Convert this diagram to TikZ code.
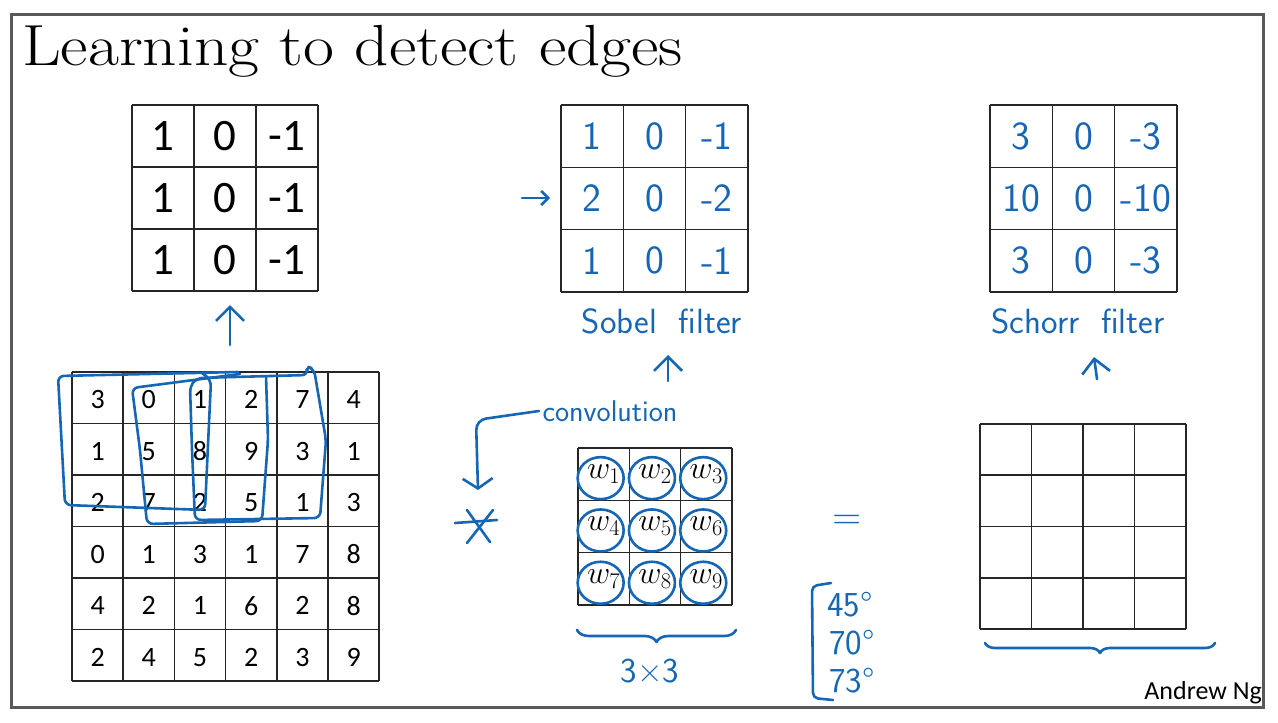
\documentclass[tikz,border=0pt]{standalone}
\usepackage{fix-cm}
\usepackage{fontspec}
\usetikzlibrary{arrows.meta,positioning,calc,decorations.pathreplacing}
\newfontfamily\calib{Carlito}
\definecolor{inkblue}{RGB}{22,102,182}

\begin{document}
\begin{tikzpicture}[x=1pt,y=-1pt,
  gridline/.style={black!85,line width=1.6pt},
  ink/.style={inkblue,line width=2.6pt,line cap=round,line join=round},
  upar/.style={ink,-{Straight Barb[length=14pt,width=28pt]}},
  bignum/.style={font=\calib\fontsize{45}{45}\selectfont},
  imgnum/.style={font=\calib\fontsize{28}{28}\selectfont,yshift=-2pt},
  handnum/.style={font=\sffamily\fontsize{40}{40}\selectfont,text=inkblue},
  handtext/.style={font=\sffamily\fontsize{35}{35}\selectfont,text=inkblue},
  wlabel/.style={font=\fontsize{32}{32}\selectfont}]
  \useasboundingbox (0,0) rectangle (1278,723);
  \fill[white] (0,0) rectangle (1278,723);
  \draw[black!65,line width=3pt] (11,14) rectangle (1263,707);

  \node[anchor=base west,inner sep=0,xscale=1.16,transform shape,font=\fontsize{58}{58}\selectfont] (title) at (22,65) {Learning to detect edges};

  % vertical edge kernel
  \foreach \i in {0,...,3} {
    \draw[gridline] ({132+62*\i},105) -- ({132+62*\i},291);
    \draw[gridline] (132,{105+62*\i}) -- (318,{105+62*\i});
  }
  \foreach \r in {1,2,3}
    \foreach \v [count=\c] in {1,0,-1}
      \node[bignum] (k-\r-\c) at ({132+62*(\c-0.5)},{105+62*(\r-0.5)}) {\v};

  % 6x6 image
  \foreach \i in {0,...,6} {
    \draw[gridline] ({72+51.2*\i},372) -- ({72+51.2*\i},681);
    \draw[gridline] (72,{372+51.5*\i}) -- (379,{372+51.5*\i});
  }
  \foreach \row [count=\r] in {{3,0,1,2,7,4},{1,5,8,9,3,1},{2,7,2,5,1,3},{0,1,3,1,7,8},{4,2,1,6,2,8},{2,4,5,2,3,9}}
    \foreach \v [count=\c] in \row
      \node[imgnum] (img-\r-\c) at ({72+51.2*(\c-0.5)},{372+51.5*(\r-0.5)}) {\v};

  % sliding windows
  \draw[ink,rounded corners=6pt] (238,372) -- (58,376) -- (65,505) -- (205,510) -- (211,380) -- (202,373);
  \draw[ink,rounded corners=6pt] (240,374) -- (132,388) -- (140,450) -- (147,524) -- (262,521) -- (268,440) -- (266,376);
  \draw[ink,rounded corners=6pt] (190,386) -- (197,378) -- (308,375) -- (306,366) -- (314,369) -- (326,440) -- (320,518) -- (195,520) -- (192,450) -- cycle;

  \coordinate (kin) at (230,345);
  \draw[upar] (kin) -- ++(0,-40);

  % Sobel
  \foreach \i in {0,...,3} {
    \draw[gridline] ({561+62.3*\i},105) -- ({561+62.3*\i},292);
    \draw[gridline] (561,{105+62.3*\i}) -- (748,{105+62.3*\i});
  }
  \foreach \row [count=\r] in {{1,0,-1},{2,0,-2},{1,0,-1}}
    \foreach \v [count=\c] in \row
      \node[handnum] (s-\r-\c) at ({561+62.3*(\c-0.5)},{105+62.3*(\r-0.5)}) {\v};
  \coordinate (sin) at (522,198);
  \draw[ink,-{Straight Barb[length=7pt,width=14pt]}] (sin) -- ++(28,0);
  \node[handtext] (sobel) at (662,321) {Sobel\ \ filter};
  \coordinate (sup) at (668,381);
  \draw[upar] (sup) -- ++(0,-26);

  % Scharr
  \foreach \i in {0,...,3} {
    \draw[gridline] ({990+62.3*\i},105) -- ({990+62.3*\i},292);
    \draw[gridline] (990,{105+62.3*\i}) -- (1177,{105+62.3*\i});
  }
  \foreach \row [count=\r] in {{3,0,-3},{10,0,-10},{3,0,-3}}
    \foreach \v [count=\c] in \row
      \node[handnum] (h-\r-\c) at ({990+62.3*(\c-0.5)},{105+62.3*(\r-0.5)}) {\v};
  \node[handtext] (scharr) at (1078,321) {Schorr\ \ filter};
  \coordinate (hup) at (1097,379);
  \draw[upar] (hup) -- ++(-3,-22);

  % convolution
  \node[font=\sffamily\fontsize{30}{30}\selectfont,text=inkblue] (conv) at (610,411) {convolution};
  \coordinate (star) at (477,525);
  \draw[ink] ($(star)+(-22,-2)$) -- ($(star)+(20,-5)$);
  \draw[ink] ($(star)+(-10,-15)$) -- ($(star)+(13,17)$);
  \draw[ink] ($(star)+(-10,18)$) -- ($(star)+(16,-15)$);
  \draw[ink,rounded corners=10pt,-{Straight Barb[length=10pt,width=30pt]}] (conv.west) -- (476,420) -- ($(star)+(1,-35)$);

  % 3x3 weights
  \foreach \i in {0,...,3} {
    \draw[gridline] ({578+51.3*\i},448) -- ({578+51.3*\i},605);
    \draw[gridline] (578,{448+52.3*\i}) -- (732,{448+52.3*\i});
  }
  \foreach \r in {1,2,3}
    \foreach \c in {1,2,3} {
      \pgfmathtruncatemacro{\n}{3*(\r-1)+\c}
      \node[wlabel] (w-\n) at ({578+51.3*(\c-0.5)},{448+52.3*(\r-0.5)}) {$w_{\n}$};
      \draw[ink] ($(w-\n)+(-3,4)$) ellipse [x radius=23pt, y radius=21pt];
    }
  \draw[ink,decorate,decoration={brace,mirror,amplitude=12pt}] (577,630) -- (736,630);
  \node[handtext] (size) at (650,671) {3×3};

  \node[font=\sffamily\fontsize{40}{40}\selectfont,text=inkblue] (eq) at (847,522) {=};

  % angles
  \draw[ink,rounded corners=5pt] (831,583) -- (812,586) -- (813,698) -- (833,700);
  \node[handtext,anchor=west] (a1) at (824,605) {45°};
  \node[handtext,anchor=west] (a2) at (826,643) {70°};
  \node[handtext,anchor=west] (a3) at (826,681) {73°};

  % 4x4 output
  \foreach \i in {0,...,4} {
    \draw[gridline] ({980+51.5*\i},424) -- ({980+51.5*\i},629);
    \draw[gridline] (980,{424+51.25*\i}) -- (1186,{424+51.25*\i});
  }
  \draw[ink,decorate,decoration={brace,mirror,amplitude=10pt}] (985,643) -- (1215,643);

  \node[anchor=base east,inner sep=0,font=\calib\fontsize{26}{26}\selectfont] (author) at (1262,699) {Andrew Ng};
\end{tikzpicture}
\end{document}
